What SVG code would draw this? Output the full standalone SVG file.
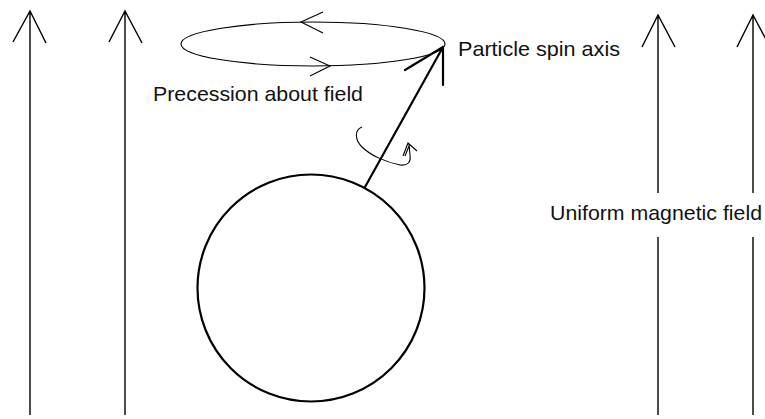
<svg xmlns="http://www.w3.org/2000/svg" width="765" height="419" viewBox="0 0 765 419">
<style>
.field{stroke:#000;stroke-width:1.4;fill:none}
.thin{stroke:#000;stroke-width:1.1;fill:none}
.thick{stroke:#000;stroke-width:2.2;fill:none;stroke-linecap:round}
text{font-family:"Liberation Sans",Arial,sans-serif;font-size:21px;fill:#111}
</style>
<rect width="765" height="419" fill="#fff"/>
<g id="field-lines">
<g id="field1"><path class="field" d="M30 11V415M13 42L30 11L46 43"/></g>
<g id="field2"><path class="field" d="M125 11V415M109 42L125 11L142 43"/></g>
<g id="field3"><path class="field" d="M658 15V193M658 237V415M642 47L658 15L675 47"/></g>
<g id="field4"><path class="field" d="M753 15V193M753 237V415M737 47L753 15L770 47"/></g>
</g>
<g id="precession">
<ellipse class="thin" cx="313" cy="44" rx="132" ry="22"/>
<path class="thin" d="M323 12L301 22L323 33M310 57L330 66L310 76"/>
</g>
<g id="particle">
<circle cx="311" cy="288" r="113.5" fill="none" stroke="#000" stroke-width="2.2"/>
</g>
<g id="connectors">
<path class="thick" d="M365 187L443 47M443 47V85M443 47L405 70"/>
<path class="thin" d="M362 127C354 130 355 140 362 147C370 155 385 162 400 165C408 166 411 162 410 155L409 144M403 156L408 143L417 151M405 156L409 146"/>
</g>
<g id="labels">
<text x="153" y="101" textLength="210" lengthAdjust="spacingAndGlyphs">Precession about field</text>
<text x="458" y="56" textLength="162" lengthAdjust="spacingAndGlyphs">Particle spin axis</text>
<text x="550" y="220" textLength="212" lengthAdjust="spacingAndGlyphs">Uniform magnetic field</text>
</g>
</svg>
